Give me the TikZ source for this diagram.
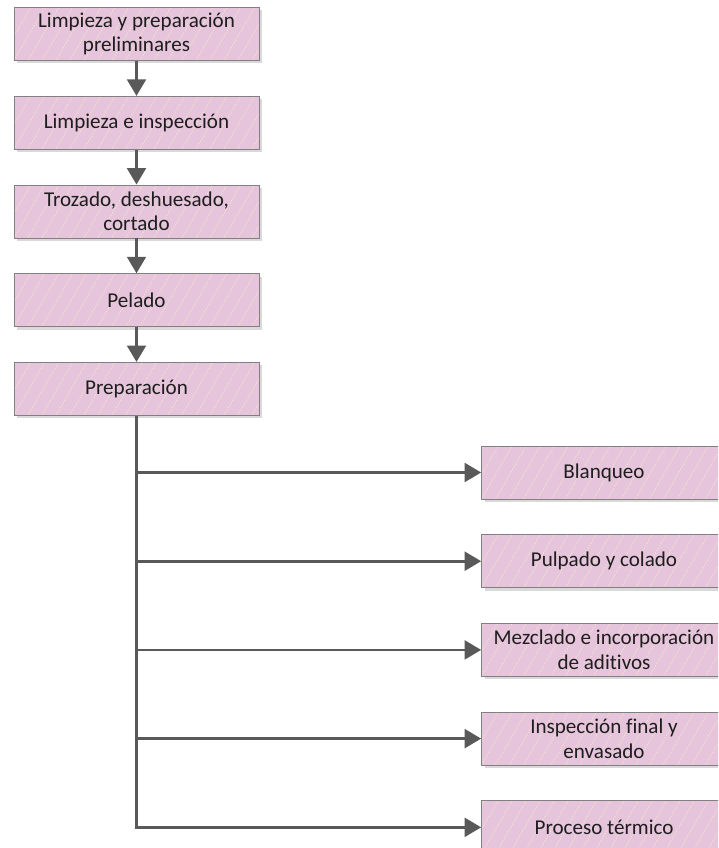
\documentclass[tikz,border=0pt]{standalone}
\usepackage{fontspec}
\setmainfont{Carlito}[Ligatures=NoCommon]
\usepackage{tikz}
\usetikzlibrary{calc}
\usetikzlibrary{positioning,shadows,arrows.meta}
\definecolor{boxpink}{RGB}{230,196,220}
\definecolor{stripe}{RGB}{242,228,205}
\definecolor{linegray}{RGB}{89,89,89}
\definecolor{edgegray}{RGB}{128,128,128}
\definecolor{textgray}{RGB}{30,30,30}

\begin{document}
\begin{tikzpicture}[x = 0.03cm, y = -0.03cm,
        stage/.style={rectangle, draw=edgegray, line width=0.6pt, fill=boxpink,
            minimum width=7.35cm, minimum height=1.59cm, inner sep=2pt,
            align=center, text=textgray, font=\fontsize{18}{21}\selectfont,
            drop shadow={shadow xshift=0.09cm, shadow yshift=-0.09cm, fill=black!15, opacity=1},
            path picture={
                \foreach \i in {-4,...,18}
                    \draw[stripe, line width=0.7pt, dash pattern=on 1.2pt off 1.2pt]
                        ($(path picture bounding box.south west)+(\i*0.42cm,0)$) -- ++(60:2cm); % stripes
            }
        },
        paths/.style={line width=2.2pt, draw=linegray, -{Triangle[length=14pt, width=16pt]}}
    ]

        \useasboundingbox (0,0) rectangle (718,848);
        \fill[white] (0,0) rectangle (718,848);
        \clip (0,0) rectangle (718,848);

        % Nodes: main column
        \node[stage] (b1) at (136.5,34) {Limpieza y preparación\\preliminares};
        \node[stage, below = 1.05cm of b1] (b2) {Limpieza e inspección};
        \node[stage, below = 1.05cm of b2] (b3) {Trozado, deshuesado,\\cortado};
        \node[stage, below = 1.05cm of b3] (b4) {Pelado};
        \node[stage, below = 1.05cm of b4] (b5) {Preparación};

        % Nodes: branches
        \node[stage] (r1) at (604,472.5) {Blanqueo};
        \node[stage, below = 1.05cm of r1] (r2) {Pulpado y colado};
        \node[stage, below = 1.05cm of r2] (r3) {Mezclado e incorporación\\de aditivos};
        \node[stage, below = 1.05cm of r3] (r4) {Inspección final y\\envasado};
        \node[stage, below = 1.05cm of r4] (r5) {Proceso térmico};

        % Paths: main column
        \draw[paths] (b1) -- (b2);
        \draw[paths] (b2) -- (b3);
        \draw[paths] (b3) -- (b4);
        \draw[paths] (b4) -- (b5);

        % Paths: branches
        \draw[paths] (b5.south) |- (r5.west);
        \draw[paths] (b5.south |- r1.west) -- (r1.west);
        \draw[paths] (b5.south |- r2.west) -- (r2.west);
        \draw[paths] (b5.south |- r3.west) -- (r3.west);
        \draw[paths] (b5.south |- r4.west) -- (r4.west);
\end{tikzpicture}
\end{document}
